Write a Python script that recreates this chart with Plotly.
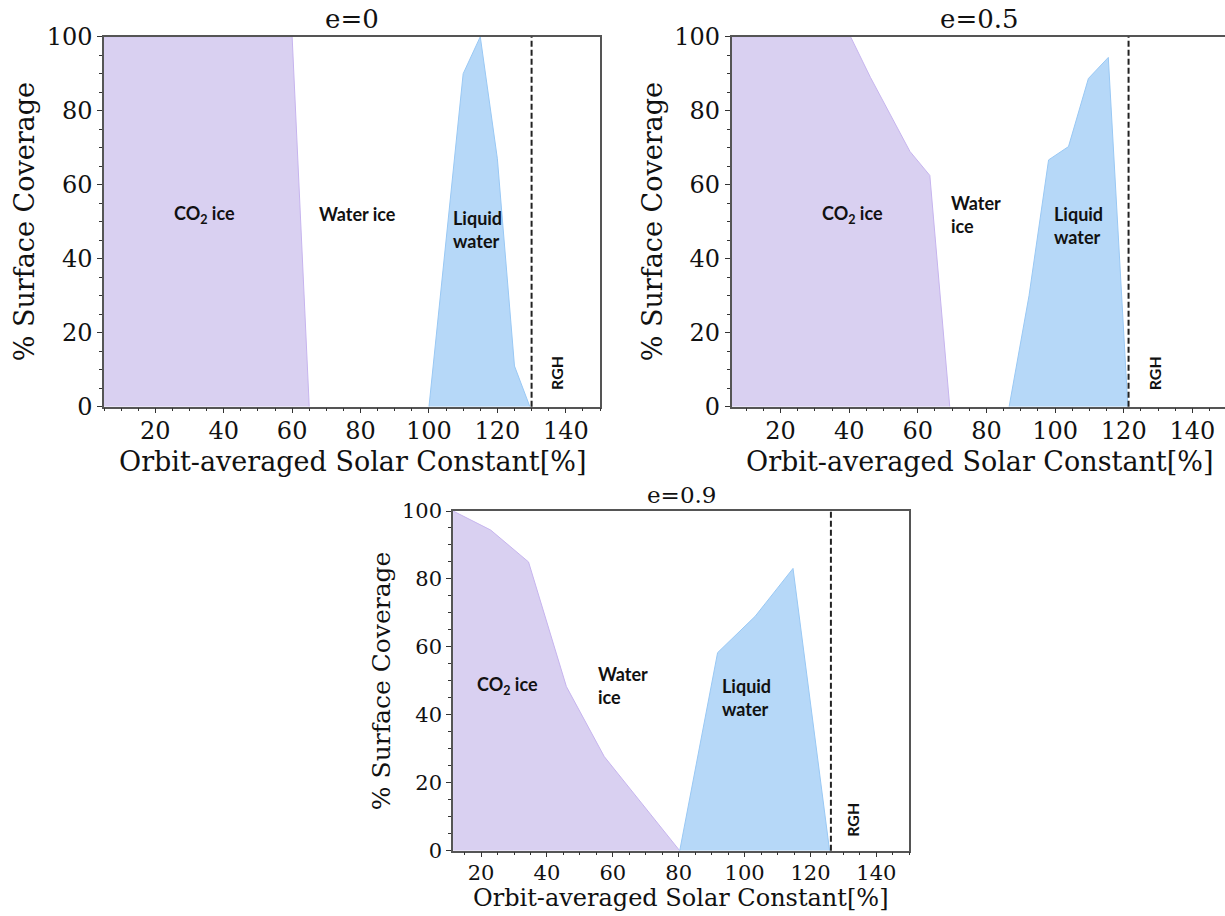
import plotly.graph_objects as go

W, H = 1225, 916

# ---------------- data ----------------
titles = ["e=0", "e=0.5", "e=0.9"]
x_title = "Orbit-averaged Solar Constant[%]"
y_title = "% Surface Coverage"

e0_co2_x = [5, 60, 65]
e0_co2_y = [100, 100, 0]
e0_liq_x = [100, 110, 115, 120, 125, 129.5]
e0_liq_y = [0, 90, 100, 67, 11, 0]

e05_co2_x = [5.8, 40.4, 46.2, 57.7, 63.5, 69.3]
e05_co2_y = [100, 100, 89, 69, 62.5, 0]
e05_liq_x = [86.6, 92.4, 98.1, 103.9, 109.7, 115.5, 121.2]
e05_liq_y = [0, 30, 66.7, 70.3, 88.7, 94.4, 0]

e09_co2_x = [11.5, 22.9, 34.4, 45.9, 57.4, 80.3]
e09_co2_y = [100, 94.4, 85, 48.3, 27.7, 0]
e09_liq_x = [80.3, 91.8, 103.2, 114.7, 125.8]
e09_liq_y = [0, 58.3, 69, 83.1, 0]

rgh_x = [130, 121.4, 126.2]

x_ticks = [20, 40, 60, 80, 100, 120, 140]
y_ticks = [0, 20, 40, 60, 80, 100]

x_ranges = [[5, 150], [5.77, 149.5], [11.47, 150]]

# ---------------- styling ----------------
CO2_FILL = "#d9d0f1"
CO2_LINE = "#c6b4ee"
LIQ_FILL = "#b6d8f8"
LIQ_LINE = "#99c8f4"
AX_COL = "#555555"
SERIF = "DejaVu Serif"
SANS = "Lato"

# pixel boxes of the plot areas: (left, right, top, bottom)
boxes = [(104, 600, 36.7, 406.7),
         (731.7, 1225, 36.7, 406.7),
         (453, 909.3, 511, 850.7)]
tick_fs = [24, 24, 21]
xtitle_fs = [27, 27, 24]
xtitle_y = [461, 461, 898]
ytitle_fs = [27, 27, 25]
title_fs = [26, 26, 23]


def px2x(p):
    return p / W


def px2y(p):
    return 1 - p / H


fig = go.Figure()

series = [(e0_co2_x, e0_co2_y, e0_liq_x, e0_liq_y),
          (e05_co2_x, e05_co2_y, e05_liq_x, e05_liq_y),
          (e09_co2_x, e09_co2_y, e09_liq_x, e09_liq_y)]

for i, (cx, cy, lx, ly) in enumerate(series):
    sfx = "" if i == 0 else str(i + 1)
    fig.add_trace(go.Scatter(x=cx, y=cy, mode="lines", fill="tozeroy",
                             fillcolor=CO2_FILL, line=dict(color=CO2_LINE, width=1),
                             xaxis="x" + sfx, yaxis="y" + sfx, showlegend=False,
                             name="CO2 ice"))
    fig.add_trace(go.Scatter(x=lx, y=ly, mode="lines", fill="tozeroy",
                             fillcolor=LIQ_FILL, line=dict(color=LIQ_LINE, width=1),
                             xaxis="x" + sfx, yaxis="y" + sfx, showlegend=False,
                             name="Liquid water"))

layout = dict(width=W, height=H, margin=dict(l=0, r=0, t=0, b=0, autoexpand=False),
              paper_bgcolor="white", plot_bgcolor="white", showlegend=False)

shapes = []
annotations = []

for i in range(3):
    sfx = "" if i == 0 else str(i + 1)
    L, R, T, B = boxes[i]
    fs = tick_fs[i]
    layout["xaxis" + sfx] = dict(
        domain=[px2x(L), px2x(R)], range=x_ranges[i], anchor="y" + sfx,
        automargin=False, ticklabelstandoff=-3,
        tickvals=x_ticks, ticks="outside", ticklen=5, tickwidth=1.2, tickcolor="#333",
        showline=True, linecolor=AX_COL, linewidth=1.5, mirror=True,
        showgrid=False, zeroline=False,
        minor=dict(dtick=5, tick0=0, ticks="outside", ticklen=3, tickcolor="#333", showgrid=False),
        tickfont=dict(family=SERIF, size=fs, color="#111"),
    )
    layout["yaxis" + sfx] = dict(
        domain=[px2y(B), px2y(T)], range=[0, 100], anchor="x" + sfx,
        automargin=False,
        tickvals=y_ticks, ticks="outside", ticklen=5, tickwidth=1.2, tickcolor="#333",
        showline=True, linecolor=AX_COL, linewidth=1.5, mirror=(i != 1),
        showgrid=False, zeroline=False,
        minor=dict(dtick=5, tick0=0, ticks="outside", ticklen=3, tickcolor="#333", showgrid=False),
        tickfont=dict(family=SERIF, size=fs, color="#111"),
        title=dict(text=y_title, standoff=4,
                   font=dict(family=SERIF, size=ytitle_fs[i], color="#111")),
    )
    # dashed runaway-greenhouse line
    shapes.append(dict(type="line", xref="x" + sfx, yref="y" + sfx + " domain",
                       x0=rgh_x[i], x1=rgh_x[i], y0=0, y1=1,
                       line=dict(color="#222", width=2, dash="6px,3px")))
    full_right = L + (150 - x_ranges[i][0]) * (R - L) / (x_ranges[i][1] - x_ranges[i][0])
    cx_px = (L + full_right) / 2
    # panel title
    annotations.append(dict(text=titles[i], xref="paper", yref="paper",
                            x=px2x(cx_px), y=px2y(T - 1),
                            xanchor="center", yanchor="bottom", showarrow=False,
                            font=dict(family=SERIF, size=title_fs[i], color="#111")))
    # x-axis title
    annotations.append(dict(text=x_title, xref="paper", yref="paper",
                            x=px2x(min(cx_px, W - 243)), y=px2y(xtitle_y[i]),
                            xanchor="center", yanchor="middle", showarrow=False,
                            font=dict(family=SERIF, size=xtitle_fs[i], color="#111")))

# region labels (data coordinates)
lab_font = dict(family=SANS, size=18, color="#111", weight="bold")
region_labels = [
    # (panel, text, x, y, xanchor)
    (0, "CO<sub>2</sub> ice", 34.3, 52, "center"),
    (0, "Water ice", 79.0, 52, "center"),
    (0, "Liquid<br>water", 106.3, 48, "left"),
    (1, "CO<sub>2</sub> ice", 40.9, 52, "center"),
    (1, "Water<br>ice", 69.2, 52, "left"),
    (1, "Liquid<br>water", 99.0, 49, "left"),
    (2, "CO<sub>2</sub> ice", 28.0, 48.5, "center"),
    (2, "Water<br>ice", 55.0, 48.6, "left"),
    (2, "Liquid<br>water", 92.5, 45, "left"),
]
for p, txt, x, y, xa in region_labels:
    sfx = "" if p == 0 else str(p + 1)
    annotations.append(dict(text=txt, xref="x" + sfx, yref="y" + sfx, x=x, y=y,
                            xanchor=xa, yanchor="middle", align="left", showarrow=False,
                            font=lab_font))

rgh_label_x = [137.3, 128.8, 132.5]
for i in range(3):
    sfx = "" if i == 0 else str(i + 1)
    annotations.append(dict(text="RGH", xref="x" + sfx, yref="y" + sfx,
                            x=rgh_label_x[i], y=9, textangle=-90, showarrow=False,
                            xanchor="center", yanchor="middle",
                            font=dict(family=SANS, size=16, color="#111", weight="bold")))

layout["shapes"] = shapes
layout["annotations"] = annotations
fig.update_layout(**layout)

fig.write_html("out.html")
